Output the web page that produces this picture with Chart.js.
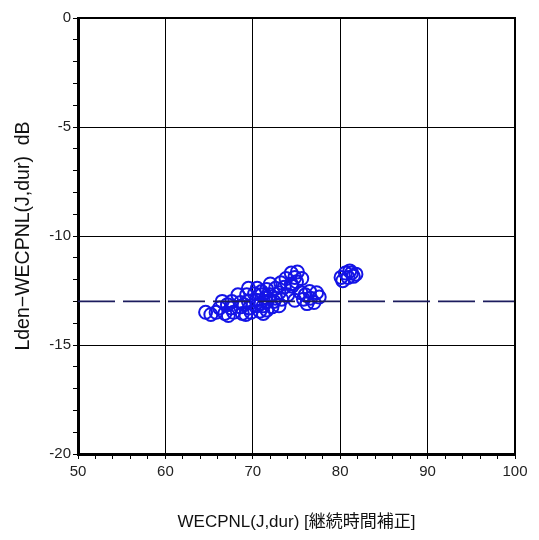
<!DOCTYPE html>
<html>
<head>
<meta charset="utf-8">
<script src="https://cdn.jsdelivr.net/npm/chart.js@4"></script>
<style>
  html, body { margin: 0; padding: 0; background: #fff; }
  #wrap { width: 539px; height: 540px; }
</style>
</head>
<body>
<div id="wrap"><canvas id="scatter" width="539" height="540"></canvas></div>
<script>
// WECPNL(J,dur) values (x) and Lden - WECPNL (y)
const wecpnl = [
  64.6, 65.8, 66.8, 67.8, 68.8, 69.8, 70.8, 71.6, 65.2, 67.2, 69.2, 71.2,
  66.2, 67.5, 68.6, 69.6, 70.5, 71.2, 72.2, 73.0,
  66.5, 67.6, 68.6, 69.5, 70.4, 71.5, 72.4, 73.3, 67.1, 69.0, 70.9,
  68.3, 69.3, 70.2, 71.0, 72.0, 73.0, 74.0, 71.5, 72.6,
  69.5, 70.5, 71.6, 72.6, 73.6, 74.5, 71.0,
  72.0, 73.2, 74.4, 75.0,
  73.8, 74.8, 75.6, 74.4, 75.1,
  75.5, 76.5, 77.3, 75.8, 76.6, 77.6, 76.2, 77.0, 74.8, 76.0,
  80.6, 81.3, 81.8, 80.1, 80.9, 81.5, 80.3, 81.1
];
const ldenDiff = [
  -13.5, -13.5, -13.55, -13.5, -13.55, -13.5, -13.45, -13.4, -13.6, -13.65, -13.6, -13.55,
  -13.3, -13.3, -13.25, -13.3, -13.2, -13.2, -13.25, -13.2,
  -13.0, -13.0, -13.05, -13.0, -12.95, -13.0, -13.0, -12.9, -13.15, -13.15, -13.1,
  -12.7, -12.7, -12.65, -12.7, -12.7, -12.6, -12.7, -12.85, -12.85,
  -12.4, -12.4, -12.45, -12.4, -12.35, -12.3, -12.55,
  -12.2, -12.15, -12.2, -12.1,
  -11.95, -11.9, -11.95, -11.7, -11.65,
  -12.6, -12.55, -12.6, -12.9, -12.85, -12.8, -13.1, -13.05, -12.95, -12.7,
  -11.7, -11.7, -11.75, -11.9, -11.9, -11.85, -12.05, -11.6
];

// reference level line
const refX = [50, 100];
const refY = [-13, -13];

const xRange = [50, 100];
const yRange = [-20, 0];

const points = wecpnl.map((v, i) => ({ x: v, y: ldenDiff[i] }));
const refLine = refX.map((v, i) => ({ x: v, y: refY[i] }));

const tickFont = { family: "'Liberation Sans', Arial, sans-serif", size: 15 };

new Chart(document.getElementById("scatter"), {
  type: "scatter",
  data: {
    datasets: [
      {
        type: "line",
        data: refLine,
        borderColor: "#1c1c5e",
        borderWidth: 1.6,
        borderDash: [37, 8],
        pointRadius: 0,
        fill: false
      },
      {
        data: points,
        pointStyle: "circle",
        pointRadius: 6.5,
        pointBorderWidth: 2,
        pointBorderColor: "#1414e6",
        pointBackgroundColor: "rgba(255,255,255,0)"
      }
    ]
  },
  options: {
    responsive: false,
    animation: false,
    layout: { padding: { left: 0, top: 18, right: 24, bottom: 0 } },
    plugins: { legend: { display: false }, tooltip: { enabled: false } },
    scales: {
      x: {
        type: "linear",
        min: xRange[0],
        max: xRange[1],
        afterFit: s => { s.height = 86; },
        border: { color: "#000", width: 3 },
        grid: {
          color: c => (c.tick && c.tick.value % 10 === 0 ? "#000" : "rgba(0,0,0,0)"),
          tickColor: "#000",
          tickLength: 5,
          lineWidth: 1
        },
        ticks: {
          stepSize: 2,
          autoSkip: false,
          maxRotation: 0,
          color: "#222",
          font: tickFont,
          padding: 4,
          callback: v => (v % 10 === 0 ? v : "")
        },
        title: {
          display: true,
          text: "WECPNL(J,dur) [継続時間補正]",
          color: "#111",
          font: { family: "'Liberation Sans', 'Noto Sans CJK JP', sans-serif", size: 17 },
          padding: { top: 0, bottom: 7 }
        }
      },
      y: {
        type: "linear",
        min: yRange[0],
        max: yRange[1],
        afterFit: s => { s.width = 78; },
        border: { color: "#000", width: 3 },
        grid: {
          color: c => (c.tick && c.tick.value % 5 === 0 ? "#000" : "rgba(0,0,0,0)"),
          tickColor: "#000",
          tickLength: 5,
          lineWidth: 1
        },
        ticks: {
          stepSize: 1,
          autoSkip: false,
          color: "#222",
          font: tickFont,
          padding: 2,
          callback: v => (v % 5 === 0 ? v : "")
        },
        title: {
          display: true,
          text: "Lden−WECPNL(J,dur)  dB",
          color: "#111",
          font: { family: "'Liberation Sans', Arial, sans-serif", size: 19.5 },
          padding: { top: 12, bottom: 0 }
        }
      }
    }
  },
  plugins: [{
    id: "frame",
    afterDraw(chart) {
      const a = chart.chartArea, g = chart.ctx;
      g.save();
      g.strokeStyle = "#000";
      g.lineWidth = 2;
      g.beginPath();
      g.moveTo(a.left, a.top);
      g.lineTo(a.right, a.top);
      g.lineTo(a.right, a.bottom);
      g.stroke();
      g.restore();
    }
  }]
});
</script>
</body>
</html>
